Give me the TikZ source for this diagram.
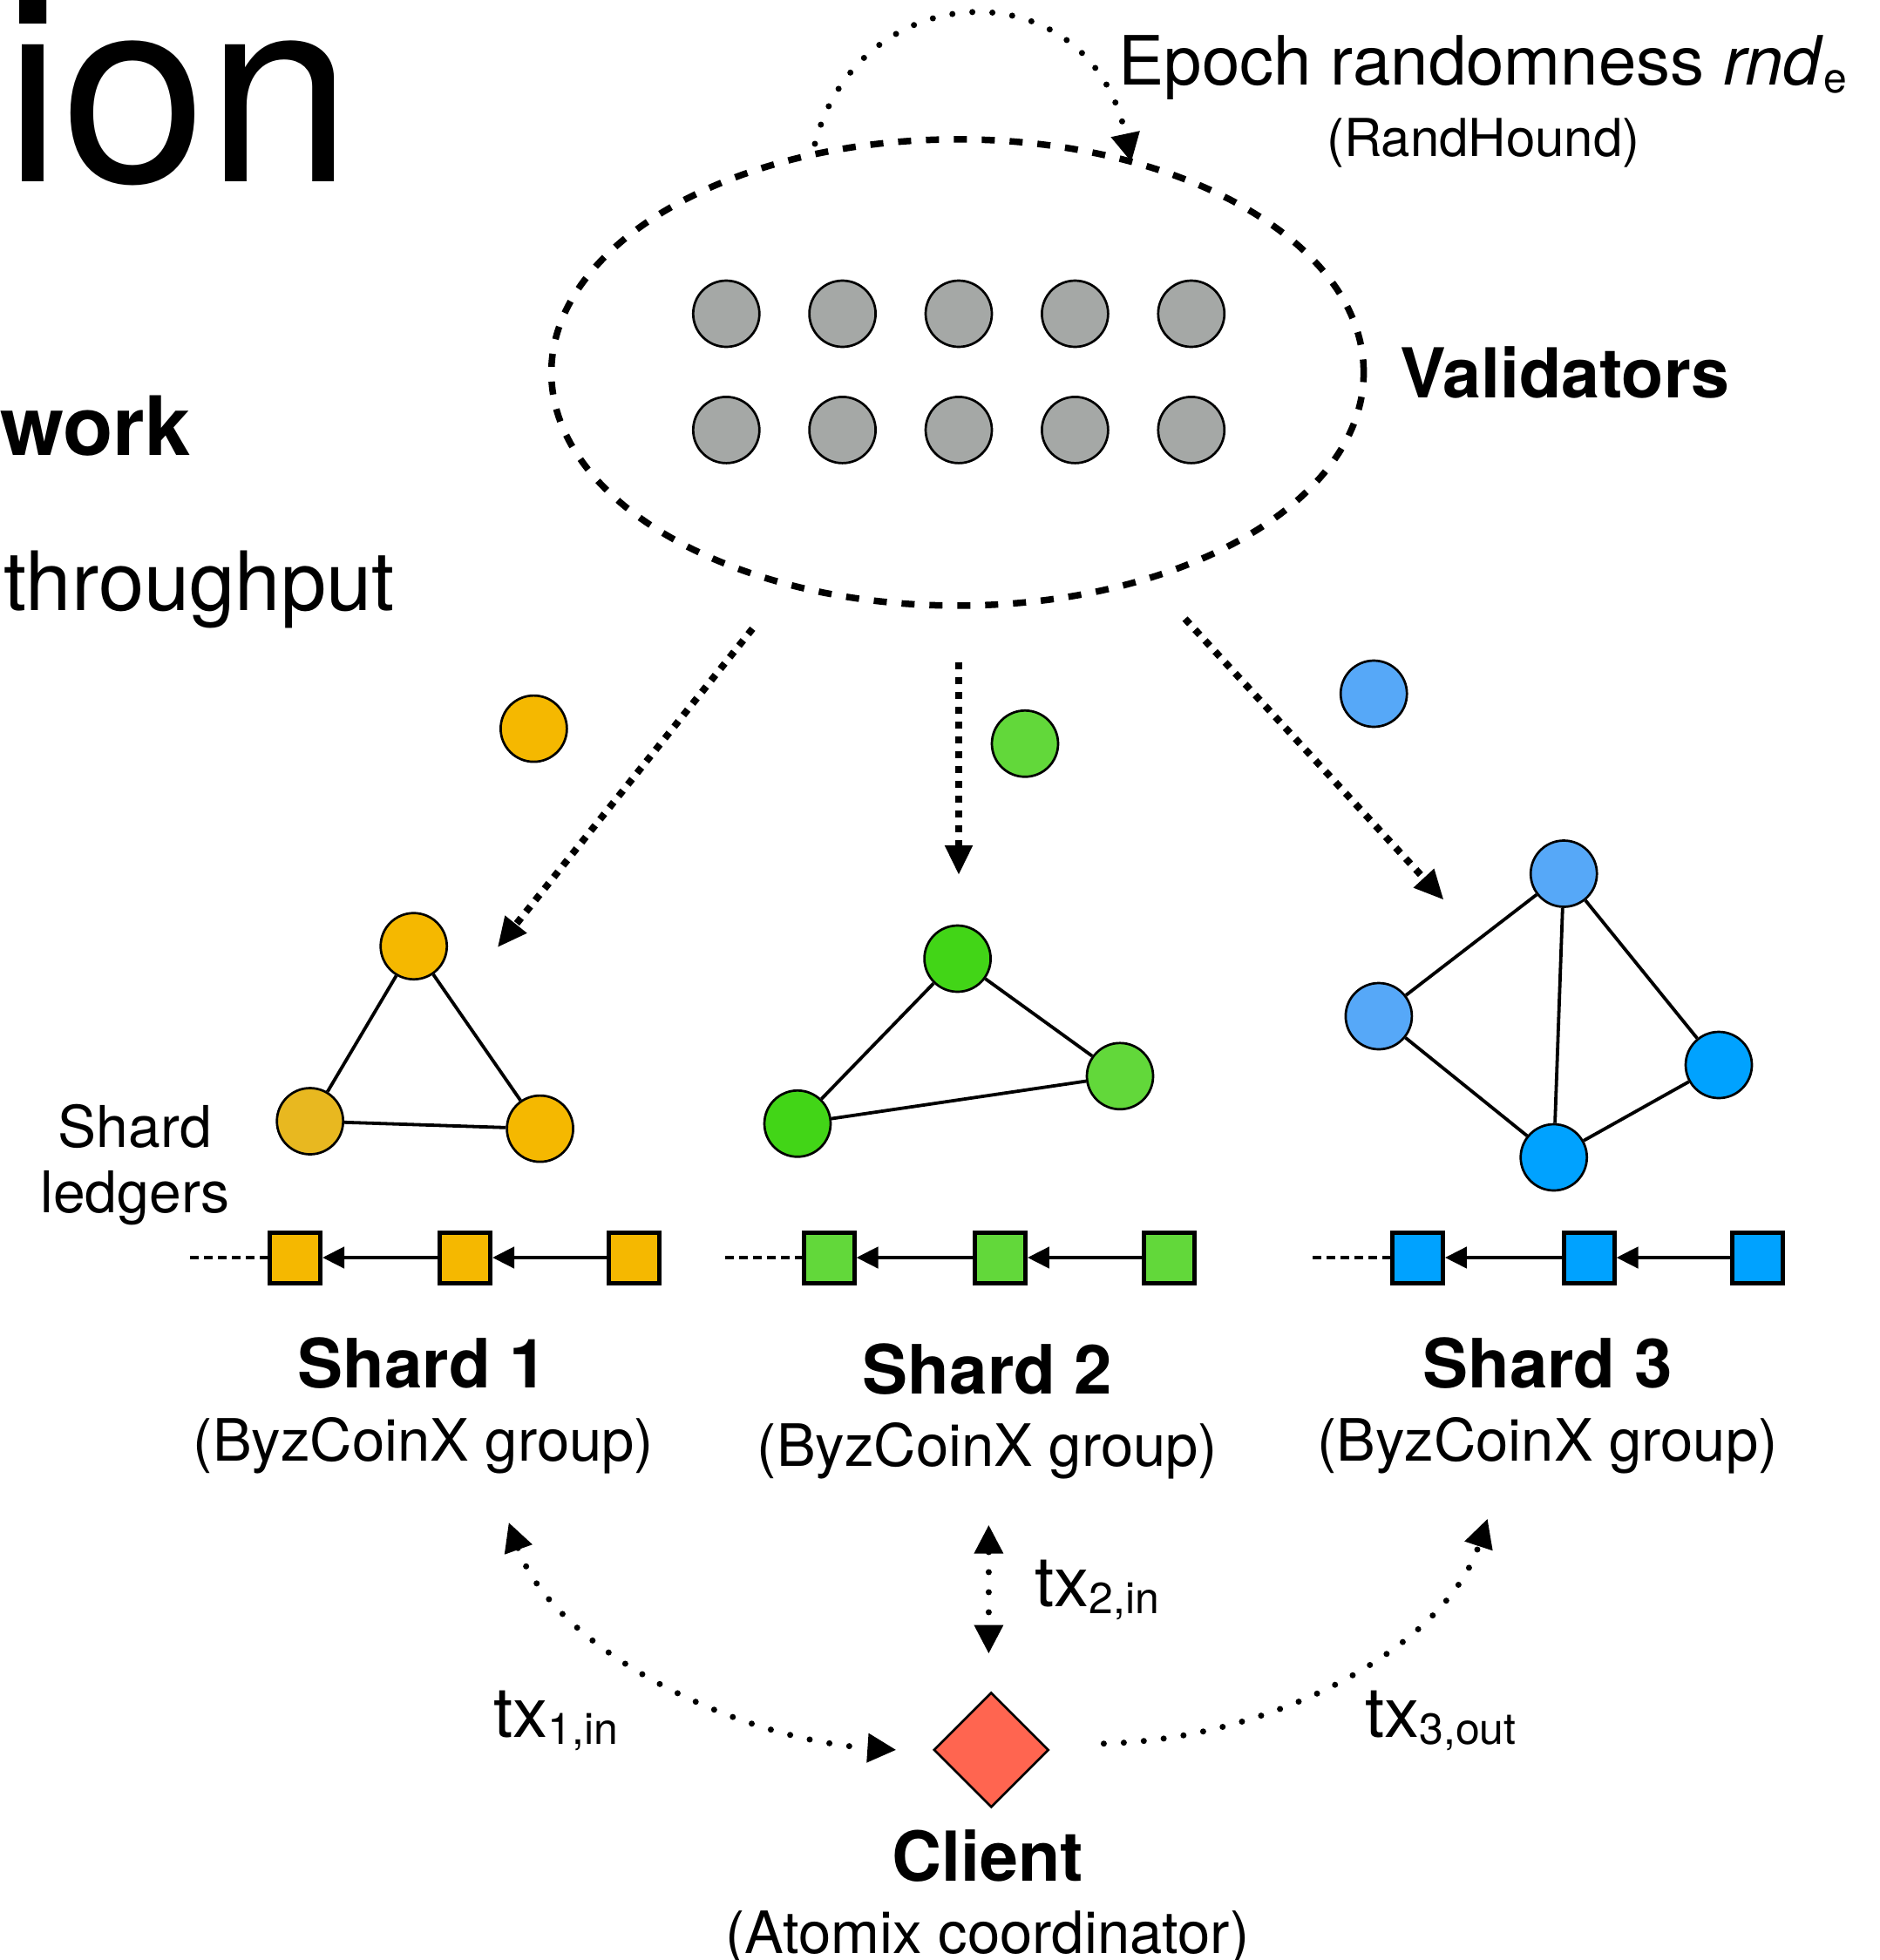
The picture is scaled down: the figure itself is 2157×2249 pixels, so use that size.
\documentclass[tikz,border=0pt]{standalone}
\usepackage{fontspec}
\setmainfont{TeX Gyre Heros}
\usetikzlibrary{arrows.meta,shapes.geometric}

\definecolor{valgray}{HTML}{A5A8A6}
\definecolor{amber}{HTML}{F5B800}
\definecolor{amberdark}{HTML}{E8B820}
\definecolor{lgreen}{HTML}{62D83A}
\definecolor{bgreen}{HTML}{42D517}
\definecolor{lblue}{HTML}{56A8F8}
\definecolor{bblue}{HTML}{00A2FF}
\definecolor{clientred}{HTML}{FF6550}

\tikzset{
  peer/.style={circle, draw=black, line width=2.7pt, minimum size=76pt, inner sep=0pt},
  blockbox/.style={draw=black, line width=5pt, minimum size=58pt, inner sep=0pt},
  link/.style={line width=3.8pt},
  chainarrow/.style={line width=4.5pt, -{Triangle[length=25pt,width=24pt]}},
  leadin/.style={line width=4.5pt, dash pattern=on 10pt off 6pt},
  assign/.style={line width=8pt, dash pattern=on 8pt off 9pt, -{Triangle[length=34pt,width=30pt]}},
  dotline/.style={line width=7pt, line cap=round, dash pattern=on 0pt off 23pt},
  bigtip/.tip={Triangle[length=33pt,width=32pt]},
  txt/.style={inner sep=0pt, anchor=base},
}

\begin{document}
\begin{tikzpicture}[x=1pt, y=-1pt]
\useasboundingbox (0,0) rectangle (2157,2249);

% slide fragments on the left
\node[txt, anchor=base west, font=\fontsize{300}{300}\selectfont] (ion) at (4,208) {ion};
\node[txt, anchor=base west, font=\bfseries\fontsize{94}{94}\selectfont] (work) at (0,522) {work};
\node[txt, anchor=base west, font=\fontsize{94}{94}\selectfont] (thru) at (4,700) {throughput};

% validator pool
\node[ellipse, draw=black, line width=7.5pt, dash pattern=on 15pt off 17pt,
      minimum width=932pt, minimum height=535pt, inner sep=0pt] (pool) at (1098.6,427.4) {};
\foreach \i/\x in {1/833.3,2/966.6,3/1100,4/1233.4,5/1366.8}{
  \node[peer, fill=valgray] (vt\i) at (\x,360) {};
  \node[peer, fill=valgray] (vb\i) at (\x,493.4) {};
}
\node[txt, anchor=base west, font=\bfseries\fontsize{79}{79}\selectfont] (vallabel) at (1606,456) {Validators};

% epoch randomness loop
\coordinate (loopa) at (935,165);
\coordinate (loopb) at (1298,186);
\draw[dotline, -bigtip] (loopa) .. controls (985,-30) and (1250,-40) .. (loopb);
\node[txt, anchor=base west, font=\fontsize{78}{78}\selectfont] (epoch) at (1283.6,97.5)
  {Epoch randomness \textit{rnd}\raisebox{-0.12em}{\fontsize{48}{48}\selectfont e}};
\node[txt, font=\fontsize{60}{60}\selectfont] (rh) at (1702,179) {(RandHound)};

% assignment of validators to shards
\coordinate (a1s) at (863.4,721.4);  \coordinate (a1e) at (570.8,1087.1);
\coordinate (a2s) at (1100,760);     \coordinate (a2e) at (1100,1004);
\coordinate (a3s) at (1359.6,710);   \coordinate (a3e) at (1656.5,1032.6);
\draw[assign] (a1s) -- (a1e);
\draw[assign] (a2s) -- (a2e);
\draw[assign] (a3s) -- (a3e);

\node[peer, fill=amber]  (free1) at (612.4,836.1) {};
\node[peer, fill=lgreen] (free2) at (1176,853.3) {};
\node[peer, fill=lblue]  (free3) at (1576.2,796) {};

% shard 1 group
\node[peer, fill=amber]     (p1a) at (474.7,1085.7) {};
\node[peer, fill=amberdark] (p1b) at (355.7,1286.5) {};
\node[peer, fill=amber]     (p1c) at (619.6,1295.1) {};
\draw[link] (p1a) -- (p1b);
\draw[link] (p1a) -- (p1c);
\draw[link] (p1b) -- (p1c);

% shard 2 group
\node[peer, fill=bgreen] (p2a) at (1098.6,1100) {};
\node[peer, fill=bgreen] (p2b) at (915,1289.3) {};
\node[peer, fill=lgreen] (p2c) at (1285,1234.8) {};
\draw[link] (p2a) -- (p2b);
\draw[link] (p2a) -- (p2c);
\draw[link] (p2b) -- (p2c);

% shard 3 group
\node[peer, fill=lblue] (p3a) at (1794.2,1002.5) {};
\node[peer, fill=lblue] (p3b) at (1581.9,1166) {};
\node[peer, fill=bblue] (p3c) at (1972,1222) {};
\node[peer, fill=bblue] (p3d) at (1782.7,1328) {};
\draw[link] (p3a) -- (p3b);
\draw[link] (p3a) -- (p3c);
\draw[link] (p3a) -- (p3d);
\draw[link] (p3b) -- (p3d);
\draw[link] (p3c) -- (p3d);

% shard ledgers
\node[txt, font=\fontsize{66}{66}\selectfont] (ledA) at (155,1316.6) {Shard};
\node[txt, font=\fontsize{66}{66}\selectfont] (ledB) at (155,1391) {ledgers};

\foreach \s/\c/\xa/\xb/\xc/\xl in {1/amber/338.5/533.5/727/218,
                                   2/lgreen/951/1147.4/1341/831.8,
                                   3/bblue/1626.4/1823/2016.5/1506}{
  \node[blockbox, fill=\c] (b\s1) at (\xa,1443) {};
  \node[blockbox, fill=\c] (b\s2) at (\xb,1443) {};
  \node[blockbox, fill=\c] (b\s3) at (\xc,1443) {};
  \coordinate (lead\s) at (\xl,1443);
  \draw[leadin] (lead\s) -- (b\s1.west);
  \draw[chainarrow] (b\s2.west) -- (b\s1.east);
  \draw[chainarrow] (b\s3.west) -- (b\s2.east);
}

% shard titles
\node[txt, font=\bfseries\fontsize{78}{78}\selectfont] (st1) at (484.8,1592) {Shard 1};
\node[txt, font=\fontsize{67}{67}\selectfont] (sg1) at (486,1676) {(ByzCoinX group)};
\node[txt, font=\bfseries\fontsize{78}{78}\selectfont] (st2) at (1133,1599) {Shard 2};
\node[txt, font=\fontsize{67}{67}\selectfont] (sg2) at (1133,1682) {(ByzCoinX group)};
\node[txt, font=\bfseries\fontsize{78}{78}\selectfont] (st3) at (1775.5,1592) {Shard 3};
\node[txt, font=\fontsize{67}{67}\selectfont] (sg3) at (1775.5,1676) {(ByzCoinX group)};

% client
\node[diamond, draw=black, line width=2.7pt, fill=clientred, minimum width=132pt,
      minimum height=132pt, inner sep=0pt] (client) at (1137.3,2007.9) {};
\node[txt, font=\bfseries\fontsize{79}{79}\selectfont] (cl) at (1133,2158.5) {Client};
\node[txt, font=\fontsize{67}{67}\selectfont] (cls) at (1133,2241) {(Atomix coordinator)};

% cross-shard transaction flows
\coordinate (t1a) at (583.7,1746.9);  \coordinate (t1b) at (1028.3,2007.9);
\coordinate (t2a) at (1134.4,1749.7); \coordinate (t2b) at (1134.4,1897.5);
\coordinate (t3a) at (1266.4,2000.7); \coordinate (t3b) at (1706.7,1742.6);
\draw[dotline, bigtip-bigtip] (t1a) .. controls (635,1890) and (840,1995) .. (t1b);
\draw[dotline, bigtip-bigtip] (t2a) -- (t2b);
\draw[dotline, -bigtip] (t3a) .. controls (1470,1995) and (1660,1885) .. (t3b);

\node[txt, anchor=base west, font=\fontsize{80}{80}\selectfont] (tx1) at (566.5,1993.5)
  {tx\raisebox{-0.1em}{\fontsize{50}{50}\selectfont 1,in}};
\node[txt, anchor=base west, font=\fontsize{80}{80}\selectfont] (tx2) at (1187.5,1843)
  {tx\raisebox{-0.1em}{\fontsize{50}{50}\selectfont 2,in}};
\node[txt, anchor=base west, font=\fontsize{80}{80}\selectfont] (tx3) at (1566,1993.5)
  {tx\raisebox{-0.1em}{\fontsize{50}{50}\selectfont 3,out}};
\end{tikzpicture}
\end{document}
